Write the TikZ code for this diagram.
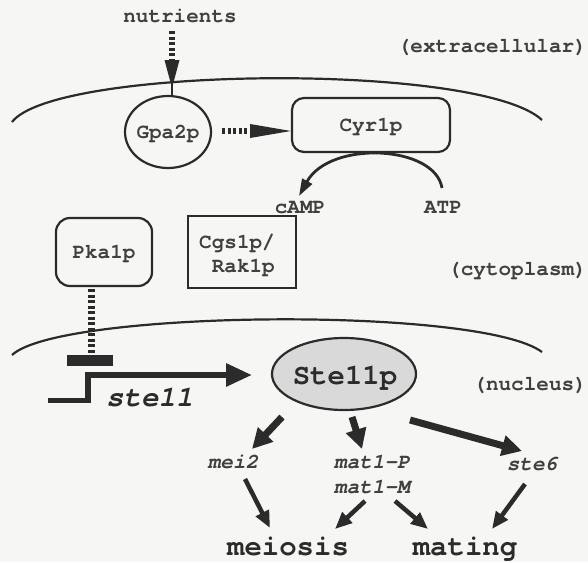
\documentclass[tikz,border=0pt]{standalone}
\usepackage{fontspec}
\newfontfamily\monoB{TeX Gyre Cursor}
\usetikzlibrary{arrows.meta,shapes.geometric}
\definecolor{ink}{HTML}{2B2B2B}
\definecolor{bgc}{HTML}{F6F6F4}
\definecolor{nucfill}{HTML}{D9D9D9}
\tikzset{
  lab/.style={font=\monoB\bfseries\fontsize{21}{24}\selectfont, inner sep=0pt, text=ink!90},
  ital/.style={font=\monoB\bfseries\itshape\fontsize{21}{24}\selectfont, inner sep=0pt, text=ink!90},
  bigb/.style={font=\monoB\bfseries\fontsize{29}{32}\selectfont, inner sep=0pt, text=ink},
  bigi/.style={font=\monoB\bfseries\itshape\fontsize{29}{32}\selectfont, inner sep=0pt, text=ink},
  ln/.style={draw=ink, line width=2.2pt},
  dashln/.style={draw=ink, line width=6pt, dash pattern=on 3pt off 2.5pt},
  bigarr/.style={draw=ink, line width=7pt, -{Triangle[length=20pt,width=20pt]}},
  smarr/.style={draw=ink, line width=4.5pt, -{Triangle[length=17pt,width=14pt]}}
}
\begin{document}
\begin{tikzpicture}[x=1pt,y=-1pt]
\fill[bgc] (0,0) rectangle (588,562);
\useasboundingbox (0,0) rectangle (588,562);

% labels of compartments
\node[lab, anchor=base] (nut) at (180,22) {nutrients};
\node[lab, anchor=base east] (ext) at (587,52) {(extracellular)};
\node[lab, anchor=base east] (cyt) at (587,275) {(cytoplasm)};
\node[lab, anchor=base east] (nuc) at (587,390) {(nucleus)};

% membranes
\draw[ln] (12,122) .. controls (55,66) and (480,62) .. (542,120);
\draw[ln] (12,355) .. controls (60,310) and (480,306) .. (542,352);

% nodes
\node[draw=ink, line width=2.2pt, ellipse, minimum width=86pt, minimum height=72pt, inner sep=0pt] (gpa) at (168,132) {};
\node[lab, anchor=base] at (168,138) {Gpa2p};
\node[draw=ink, line width=2.2pt, rounded corners=12pt, minimum width=158pt, minimum height=54pt, inner sep=0pt] (cyr) at (371,125) {};
\node[lab, anchor=base] at (371,131) {Cyr1p};
\node[lab, anchor=base] (camp) at (300,213) {cAMP};
\node[lab, anchor=base] (atp) at (443,213) {ATP};
\node[draw=ink, line width=2.2pt, rounded corners=14pt, minimum width=96pt, minimum height=68pt, inner sep=0pt] (pka) at (104,252) {};
\node[lab, anchor=base] at (104,258) {Pka1p};
\node[draw=ink, line width=2.2pt, minimum width=108pt, minimum height=72pt, inner sep=0pt] (cgs) at (242,252) {};
\node[lab, anchor=base west] at (199,248) {Cgs1p/};
\node[lab, anchor=base west] at (199,272) {\hphantom{C}Rak1p};
\node[fill=ink, minimum width=46pt, minimum height=11pt, inner sep=0pt] (bar) at (90,360) {};
\node[draw=ink, line width=2.2pt, fill=nucfill, ellipse, minimum width=144pt, minimum height=72pt, inner sep=0pt] (ste) at (344,374) {};
\node[bigb, anchor=base] at (345,384) {Ste11p};
\node[bigi, anchor=base west] (gene) at (106,406) {ste11};
\node[ital, anchor=base] (mei) at (233,468) {mei2};
\node[ital, anchor=base] (matp) at (372,468) {mat1-P};
\node[ital, anchor=base] (matm) at (372,493) {mat1-M};
\node[ital, anchor=base] (six) at (532,470) {ste6};
\node[bigb, anchor=base] (meio) at (288,555) {meiosis};
\node[bigb, anchor=base] (mat) at (465,555) {mating};

% nutrients -> Gpa2p
\coordinate (n1) at (172,31);
\coordinate (n2) at (172,61);
\draw[dashln] (n1) -- (n2);
\draw[ink, line width=2pt] (n2) -- (gpa.north -| n2);
\fill[ink] (164.5,60) -- (179.5,60) -- (172,88) -- cycle;

% Gpa2p -> Cyr1p
\coordinate (g1) at (222,131);
\coordinate (g2) at (251,131);
\draw[dashln] (g1) -- (g2);
\fill[ink] (250,124) -- (250,138) -- (cyr.west |- g2) -- cycle;

% ATP -> cAMP
\coordinate (atpt) at (442,188);
\coordinate (campt) at (299,196);
\draw[ink, line width=2.8pt, -{Triangle[length=17pt,width=11pt]}] (atpt) .. controls (435,145) and (330,140) .. (campt);

% Pka1p --| ste11
\draw[dashln, line width=7pt] ([xshift=-13pt,yshift=-2pt]pka.south) -- (bar.north -| 91,0);

% promoter and transcript arrow
\coordinate (p0) at (48,400);
\coordinate (p1) at (88,400);
\coordinate (p2) at (88,375);
\coordinate (p3) at (252,375);
\draw[ink, line width=5pt] (p0) -- (p1);
\draw[ink, line width=6pt, -{Triangle[length=26pt,width=22pt]}] (88,402.5) -- (p2) -- (p3);

% Ste11p targets
\draw[bigarr] (282,417) -- (252,449);
\draw[bigarr] (352,417) -- (362,449);
\draw[bigarr] (410,420) -- (522,451);

% to meiosis / mating
\draw[smarr] (245,479) -- (270,528);
\draw[smarr] (365,501) -- (335,529);
\draw[smarr] (395,501) -- (428,529);
\draw[smarr] (525,484) -- (492,529);
\end{tikzpicture}
\end{document}
